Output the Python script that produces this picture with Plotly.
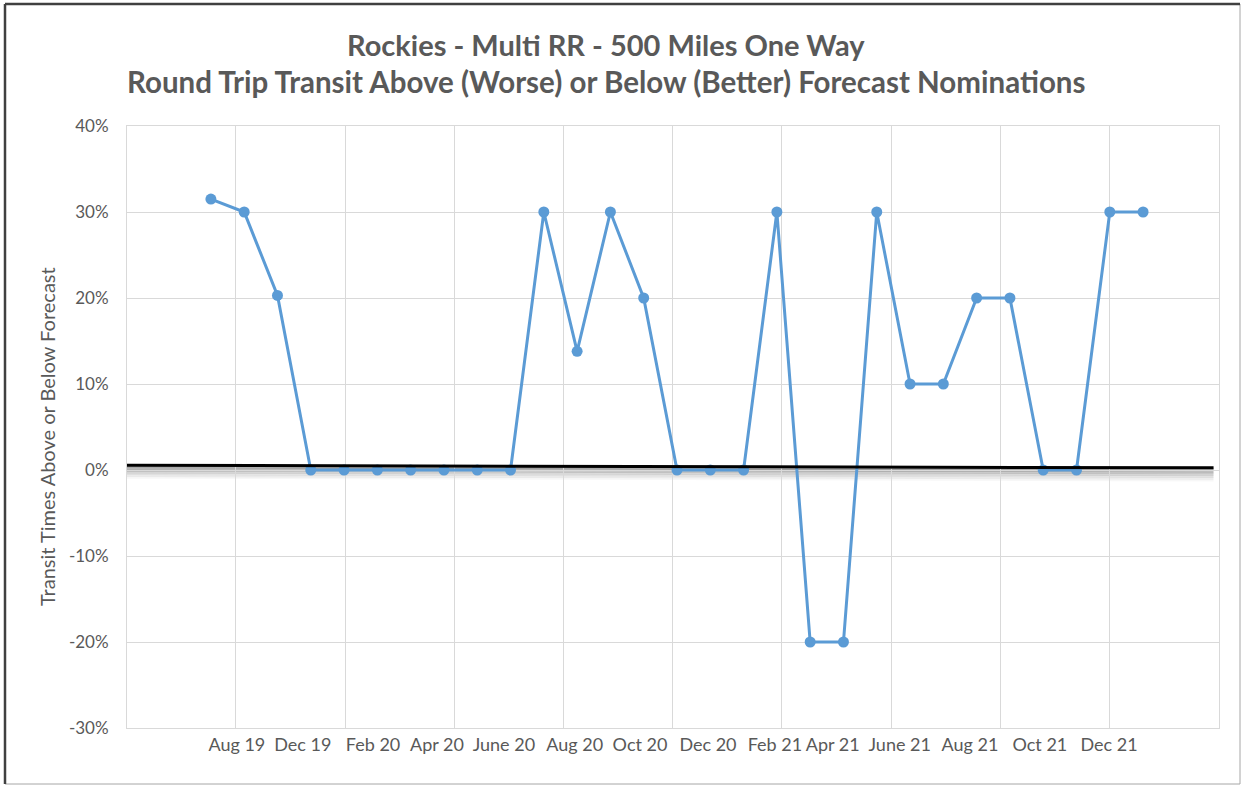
import plotly.graph_objects as go

# ---- data ----
values = [31.5, 30, 20.3, 0, 0, 0, 0, 0, 0, 0, 30, 13.8, 30, 20, 0, 0, 0, 30,
          -20, -20, 30, 10, 10, 20, 20, 0, 0, 30, 30]
tick_labels = ["Aug 19", "Dec 19", "Feb 20", "Apr 20", "June 20", "Aug 20", "Oct 20",
               "Dec 20", "Feb 21", "Apr 21", "June 21", "Aug 21", "Oct 21", "Dec 21"]
tick_pos = [0.78, 2.76, 4.87, 6.79, 8.8, 10.93, 12.89, 14.93, 16.94, 18.68, 20.69,
            22.8, 24.9, 26.98]
y_ticks = [-30, -20, -10, 0, 10, 20, 30, 40]
baseline_start = 0.55   # black forecast line, % at left edge
baseline_end = 0.25     # % at right edge

W, H = 1244, 786
L, R, T, B = 127, 25, 126, 58
PW, PH = W - L - R, H - T - B

x = list(range(len(values)))
y = [v / 100 for v in values]
XMIN, XMAX = -2.52, 30.28

GRAY = "#595959"
FONT = "Lato"

fig = go.Figure()

# shadow under the forecast line
for off, op in [(0.2, 0.24), (0.4, 0.19), (0.6, 0.15), (0.8, 0.11), (1.0, 0.08), (1.2, 0.05), (1.4, 0.03)]:
    fig.add_shape(type="line", xref="paper", yref="y", x0=0.0, x1=0.995,
                  y0=(baseline_start - off) / 100, y1=(baseline_end - off) / 100,
                  line=dict(color=f"rgba(0,0,0,{op})", width=3), layer="below")

fig.add_trace(go.Scatter(
    x=x, y=y, mode="lines+markers",
    line=dict(color="#5b9bd5", width=3),
    marker=dict(color="#5b9bd5", size=11),
    showlegend=False, hoverinfo="skip"))

# black forecast line
fig.add_shape(type="line", xref="paper", yref="y", x0=0.0, x1=0.995,
              y0=baseline_start / 100, y1=baseline_end / 100,
              line=dict(color="black", width=3))

# invisible trace for second x axis (labels)
fig.add_trace(go.Scatter(x=[XMIN], y=[0], xaxis="x2", mode="markers",
                         marker=dict(opacity=0), showlegend=False, hoverinfo="skip"))

fig.update_layout(
    width=W, height=H,
    margin=dict(l=L, r=R, t=T, b=B),
    paper_bgcolor="white", plot_bgcolor="white",
    font=dict(family=FONT, color=GRAY, size=18),
    xaxis=dict(range=[XMIN, XMAX], tick0=0.75, dtick=3.28, showticklabels=False,
               showgrid=True, gridcolor="#d9d9d9", gridwidth=1, zeroline=False,
               showline=True, linecolor="#d9d9d9", mirror=True, ticks=""),
    xaxis2=dict(range=[XMIN, XMAX], overlaying="x", side="bottom", anchor="y",
                tickmode="array", tickvals=tick_pos, ticktext=tick_labels,
                showgrid=False, zeroline=False, showline=False, ticks="",
                tickfont=dict(size=18, color=GRAY, family=FONT), ticklabelstandoff=4),
    yaxis=dict(range=[-0.30, 0.40], tickmode="array",
               tickvals=[v / 100 for v in y_ticks], ticktext=[f"{v}%" for v in y_ticks],
               showgrid=True, gridcolor="#d9d9d9", gridwidth=1, zeroline=False,
               showline=True, linecolor="#d9d9d9", mirror=True, ticks="",
               tickfont=dict(size=17, color=GRAY, family=FONT), ticklabelstandoff=14),
)

def py(ypx):
    return (H - B - ypx) / PH

def px(xpx):
    return (xpx - L) / PW

fig.add_annotation(text="<b>Rockies - Multi RR - 500 Miles One Way</b>",
                   xref="paper", yref="paper", x=px(606), y=py(44), showarrow=False,
                   font=dict(size=29, color=GRAY, family=FONT), xanchor="center", yanchor="middle")
fig.add_annotation(text="<b>Round Trip Transit Above (Worse) or Below (Better) Forecast Nominations</b>",
                   xref="paper", yref="paper", x=px(606), y=py(82), showarrow=False,
                   font=dict(size=29.5, color=GRAY, family=FONT), xanchor="center", yanchor="middle")
fig.add_annotation(text="Transit Times Above or Below Forecast",
                   xref="paper", yref="paper", x=px(47), y=py(437), showarrow=False,
                   textangle=-90, font=dict(size=20, color=GRAY, family=FONT),
                   xanchor="center", yanchor="middle")

# outer chart border
fig.add_shape(type="rect", xref="paper", yref="paper",
              x0=px(5), x1=px(1240), y0=py(784), y1=py(4),
              line=dict(color="#a6a6a6", width=1), layer="below")
fig.add_shape(type="line", xref="paper", yref="paper", x0=px(5), x1=px(1240), y0=py(4), y1=py(4),
              line=dict(color="#404040", width=2.5))
fig.add_shape(type="line", xref="paper", yref="paper", x0=px(5), x1=px(5), y0=py(4), y1=py(784),
              line=dict(color="#404040", width=2.5))

fig.write_html("out.html", config={"displayModeBar": False},
               post_script="document.body.style.margin='0';")
